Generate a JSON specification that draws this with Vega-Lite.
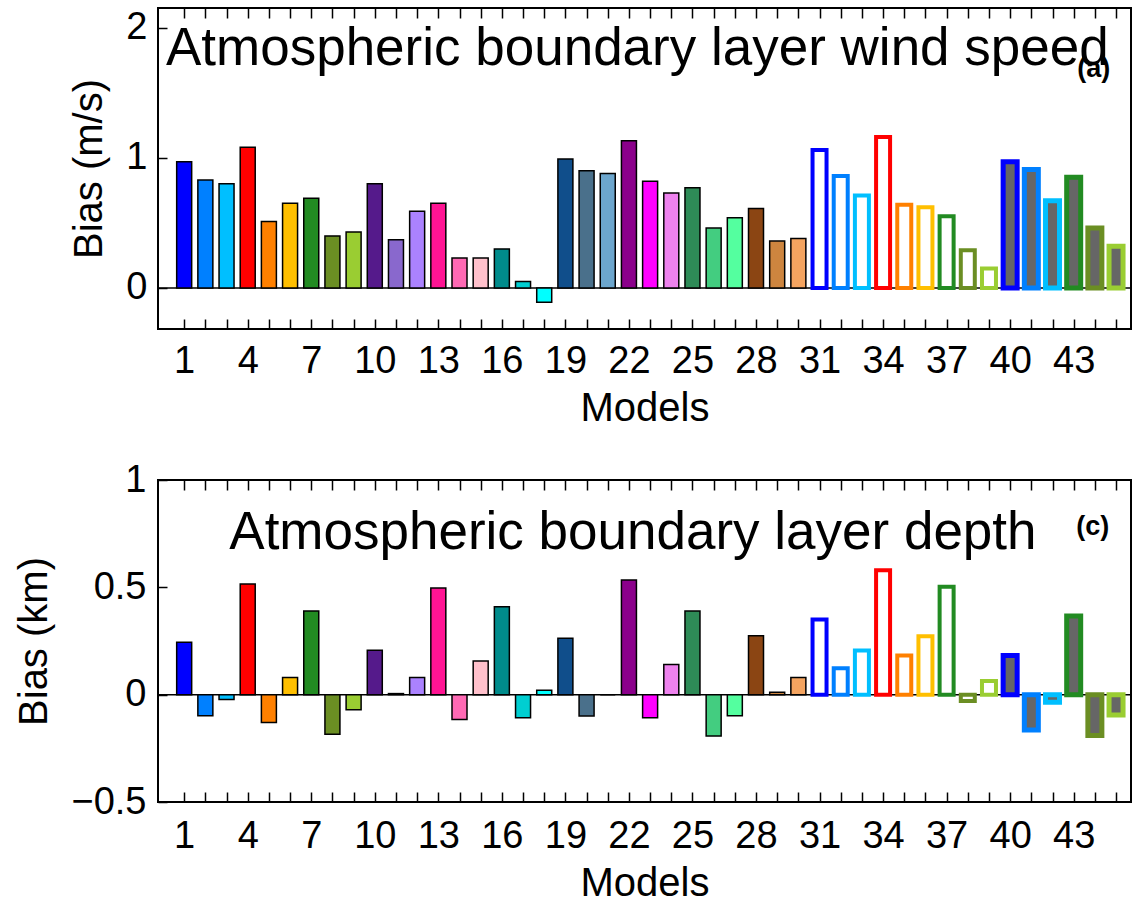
{
  "$schema": "https://vega.github.io/schema/vega-lite/v6.json",
  "padding": {"left": 13, "top": 6, "right": 0, "bottom": 5},
  "background": "white",
  "bounds": "flush",
  "spacing": 151,
  "config": {
    "font": "Liberation Sans",
    "view": {"stroke": "black", "strokeWidth": 2},
    "axis": {
      "labelFont": "Liberation Sans", "labelFontSize": 38, "labelColor": "black",
      "titleFont": "Liberation Sans", "titleFontSize": 40, "titleFontWeight": "normal", "titleColor": "black",
      "tickColor": "black", "tickWidth": 1.5, "domain": false, "grid": false,
      "labelOverlap": false, "labelFlush": false, "labelBound": false
    }
  },
  "data": {
    "values": [
      {"model": 1, "wind": 0.97, "depth": 0.244},
      {"model": 2, "wind": 0.83, "depth": -0.098},
      {"model": 3, "wind": 0.80, "depth": -0.022},
      {"model": 4, "wind": 1.08, "depth": 0.516},
      {"model": 5, "wind": 0.51, "depth": -0.13},
      {"model": 6, "wind": 0.65, "depth": 0.08},
      {"model": 7, "wind": 0.69, "depth": 0.39},
      {"model": 8, "wind": 0.40, "depth": -0.184},
      {"model": 9, "wind": 0.43, "depth": -0.07},
      {"model": 10, "wind": 0.80, "depth": 0.207},
      {"model": 11, "wind": 0.37, "depth": 0.005},
      {"model": 12, "wind": 0.59, "depth": 0.08},
      {"model": 13, "wind": 0.65, "depth": 0.497},
      {"model": 14, "wind": 0.23, "depth": -0.116},
      {"model": 15, "wind": 0.23, "depth": 0.157},
      {"model": 16, "wind": 0.30, "depth": 0.41},
      {"model": 17, "wind": 0.05, "depth": -0.107},
      {"model": 18, "wind": -0.11, "depth": 0.02},
      {"model": 19, "wind": 0.99, "depth": 0.263},
      {"model": 20, "wind": 0.90, "depth": -0.099},
      {"model": 21, "wind": 0.88, "depth": 0.0},
      {"model": 22, "wind": 1.13, "depth": 0.534},
      {"model": 23, "wind": 0.82, "depth": -0.107},
      {"model": 24, "wind": 0.73, "depth": 0.14},
      {"model": 25, "wind": 0.77, "depth": 0.39},
      {"model": 26, "wind": 0.46, "depth": -0.193},
      {"model": 27, "wind": 0.54, "depth": -0.098},
      {"model": 28, "wind": 0.61, "depth": 0.275},
      {"model": 29, "wind": 0.36, "depth": 0.011},
      {"model": 30, "wind": 0.38, "depth": 0.08},
      {"model": 31, "wind": 1.06, "depth": 0.35},
      {"model": 32, "wind": 0.86, "depth": 0.123},
      {"model": 33, "wind": 0.71, "depth": 0.206},
      {"model": 34, "wind": 1.16, "depth": 0.58},
      {"model": 35, "wind": 0.64, "depth": 0.182},
      {"model": 36, "wind": 0.62, "depth": 0.272},
      {"model": 37, "wind": 0.55, "depth": 0.503},
      {"model": 38, "wind": 0.29, "depth": -0.03},
      {"model": 39, "wind": 0.15, "depth": 0.064},
      {"model": 40, "wind": 0.97, "depth": 0.182},
      {"model": 41, "wind": 0.91, "depth": -0.165},
      {"model": 42, "wind": 0.67, "depth": -0.035},
      {"model": 43, "wind": 0.85, "depth": 0.367},
      {"model": 44, "wind": 0.46, "depth": -0.19},
      {"model": 45, "wind": 0.32, "depth": -0.095}
    ]
  },
  "vconcat": [
    {
      "width": 973,
      "height": 321,
      "resolve": {"axis": {"x": "independent", "y": "independent"}},
      "layer": [
        {
          "data": {"values": [{}]},
          "mark": {"type": "rule", "color": "black", "strokeWidth": 1.5},
          "encoding": {"y": {"datum": 0, "type": "quantitative", "scale": {"domain": [-0.315, 2.15], "nice": false, "zero": false}, "axis": null}}
        },
        {
          "transform": [{"filter": {"field": "model", "range": [1, 30]}}],
          "mark": {"type": "bar", "width": 15, "stroke": "black", "strokeWidth": 1.5},
          "encoding": {
            "x": {"field": "model", "type": "quantitative", "scale": {"domain": [0, 45.47], "nice": false, "zero": false},
              "axis": {"orient": "bottom", "values": [1,2,3,4,5,6,7,8,9,10,11,12,13,14,15,16,17,18,19,20,21,22,23,24,25,26,27,28,29,30,31,32,33,34,35,36,37,38,39,40,41,42,43,44,45],
                "labelExpr": "(datum.value - 1) % 3 == 0 ? datum.label : ''", "tickSize": -10, "labelPadding": 23, "title": "Models", "titlePadding": 8}},
            "y": {"field": "wind", "type": "quantitative", "scale": {"domain": [-0.315, 2.15], "nice": false, "zero": false},
              "axis": {"values": [0, 1, 2], "format": "~g", "tickSize": -9, "labelPadding": 20, "title": "Bias (m/s)", "titlePadding": 16}},
            "fill": {"field": "model", "type": "nominal", "legend": null,
              "scale": {"domain": [1,2,3,4,5,6,7,8,9,10,11,12,13,14,15,16,17,18,19,20,21,22,23,24,25,26,27,28,29,30,31,32,33,34,35,36,37,38,39,40,41,42,43,44,45],
                "range": ["#0000FF","#0080FF","#00BFFF","#FF0000","#FF8000","#FFBF00","#228B22","#6B8E23","#9ACD32","#551A8B","#8968CD","#AB82FF","#FF1493","#FF69B4","#FFC0CB","#008B8B","#00CED1","#00FFFF","#104E8B","#4A708B","#6CA6CD","#8B008B","#FF00FF","#EE82EE","#2E8B57","#43CD80","#54FF9F","#8B4513","#CD853F","#F4A460","#0000FF","#0080FF","#00BFFF","#FF0000","#FF8000","#FFBF00","#228B22","#6B8E23","#9ACD32","#0000FF","#0080FF","#00BFFF","#228B22","#6B8E23","#9ACD32"]}}
          }
        },
        {
          "transform": [{"filter": {"field": "model", "range": [31, 39]}}],
          "mark": {"type": "bar", "width": 14, "fill": "white", "strokeWidth": 4},
          "encoding": {
            "x": {"field": "model", "type": "quantitative", "scale": {"domain": [0, 45.47], "nice": false, "zero": false},
              "axis": {"orient": "top", "values": [1,2,3,4,5,6,7,8,9,10,11,12,13,14,15,16,17,18,19,20,21,22,23,24,25,26,27,28,29,30,31,32,33,34,35,36,37,38,39,40,41,42,43,44,45],
                "labels": false, "tickSize": -10, "title": null}},
            "y": {"field": "wind", "type": "quantitative", "scale": {"domain": [-0.315, 2.15], "nice": false, "zero": false}, "axis": null},
            "stroke": {"field": "model", "type": "nominal", "legend": null,
              "scale": {"domain": [1,2,3,4,5,6,7,8,9,10,11,12,13,14,15,16,17,18,19,20,21,22,23,24,25,26,27,28,29,30,31,32,33,34,35,36,37,38,39,40,41,42,43,44,45],
                "range": ["#0000FF","#0080FF","#00BFFF","#FF0000","#FF8000","#FFBF00","#228B22","#6B8E23","#9ACD32","#551A8B","#8968CD","#AB82FF","#FF1493","#FF69B4","#FFC0CB","#008B8B","#00CED1","#00FFFF","#104E8B","#4A708B","#6CA6CD","#8B008B","#FF00FF","#EE82EE","#2E8B57","#43CD80","#54FF9F","#8B4513","#CD853F","#F4A460","#0000FF","#0080FF","#00BFFF","#FF0000","#FF8000","#FFBF00","#228B22","#6B8E23","#9ACD32","#0000FF","#0080FF","#00BFFF","#228B22","#6B8E23","#9ACD32"]}}
          }
        },
        {
          "transform": [{"filter": {"field": "model", "range": [40, 45]}}],
          "mark": {"type": "bar", "width": 14, "fill": "#666666", "strokeWidth": 5},
          "encoding": {
            "x": {"field": "model", "type": "quantitative", "scale": {"domain": [0, 45.47], "nice": false, "zero": false}, "axis": null},
            "y": {"field": "wind", "type": "quantitative", "scale": {"domain": [-0.315, 2.15], "nice": false, "zero": false}, "axis": null},
            "stroke": {"field": "model", "type": "nominal", "legend": null,
              "scale": {"domain": [1,2,3,4,5,6,7,8,9,10,11,12,13,14,15,16,17,18,19,20,21,22,23,24,25,26,27,28,29,30,31,32,33,34,35,36,37,38,39,40,41,42,43,44,45],
                "range": ["#0000FF","#0080FF","#00BFFF","#FF0000","#FF8000","#FFBF00","#228B22","#6B8E23","#9ACD32","#551A8B","#8968CD","#AB82FF","#FF1493","#FF69B4","#FFC0CB","#008B8B","#00CED1","#00FFFF","#104E8B","#4A708B","#6CA6CD","#8B008B","#FF00FF","#EE82EE","#2E8B57","#43CD80","#54FF9F","#8B4513","#CD853F","#F4A460","#0000FF","#0080FF","#00BFFF","#FF0000","#FF8000","#FFBF00","#228B22","#6B8E23","#9ACD32","#0000FF","#0080FF","#00BFFF","#228B22","#6B8E23","#9ACD32"]}}
          }
        },
        {
          "data": {"values": [{}]},
          "mark": {"type": "text", "text": "Atmospheric boundary layer wind speed", "font": "Liberation Sans", "fontSize": 53, "align": "left", "baseline": "alphabetic", "color": "black"},
          "encoding": {
            "x": {"datum": 0.14, "type": "quantitative", "scale": {"domain": [0, 45.47], "nice": false, "zero": false}, "axis": null},
            "y": {"datum": 1.715, "type": "quantitative", "scale": {"domain": [-0.315, 2.15], "nice": false, "zero": false}, "axis": null}
          }
        },
        {
          "data": {"values": [{}]},
          "mark": {"type": "text", "text": "(a)", "font": "Liberation Sans", "fontSize": 27, "fontWeight": "bold", "align": "center", "baseline": "middle", "color": "black"},
          "encoding": {
            "x": {"datum": 43.95, "type": "quantitative", "scale": {"domain": [0, 45.47], "nice": false, "zero": false}, "axis": null},
            "y": {"datum": 1.68, "type": "quantitative", "scale": {"domain": [-0.315, 2.15], "nice": false, "zero": false}, "axis": null}
          }
        }
      ]
    },
    {
      "width": 973,
      "height": 322,
      "resolve": {"axis": {"x": "independent", "y": "independent"}},
      "layer": [
        {
          "data": {"values": [{}]},
          "mark": {"type": "rule", "color": "black", "strokeWidth": 1.5},
          "encoding": {"y": {"datum": 0, "type": "quantitative", "scale": {"domain": [-0.5, 1], "nice": false, "zero": false}, "axis": null}}
        },
        {
          "transform": [{"filter": {"field": "model", "range": [1, 30]}}],
          "mark": {"type": "bar", "width": 15, "stroke": "black", "strokeWidth": 1.5},
          "encoding": {
            "x": {"field": "model", "type": "quantitative", "scale": {"domain": [0, 45.47], "nice": false, "zero": false},
              "axis": {"orient": "bottom", "values": [1,2,3,4,5,6,7,8,9,10,11,12,13,14,15,16,17,18,19,20,21,22,23,24,25,26,27,28,29,30,31,32,33,34,35,36,37,38,39,40,41,42,43,44,45],
                "labelExpr": "(datum.value - 1) % 3 == 0 ? datum.label : ''", "tickSize": -10, "labelPadding": 25, "title": "Models", "titlePadding": 8}},
            "y": {"field": "depth", "type": "quantitative", "scale": {"domain": [-0.5, 1], "nice": false, "zero": false},
              "axis": {"values": [-0.5, 0, 0.5, 1], "format": "~g", "tickSize": -9, "labelPadding": 21, "title": "Bias (km)", "titlePadding": 16}},
            "fill": {"field": "model", "type": "nominal", "legend": null,
              "scale": {"domain": [1,2,3,4,5,6,7,8,9,10,11,12,13,14,15,16,17,18,19,20,21,22,23,24,25,26,27,28,29,30,31,32,33,34,35,36,37,38,39,40,41,42,43,44,45],
                "range": ["#0000FF","#0080FF","#00BFFF","#FF0000","#FF8000","#FFBF00","#228B22","#6B8E23","#9ACD32","#551A8B","#8968CD","#AB82FF","#FF1493","#FF69B4","#FFC0CB","#008B8B","#00CED1","#00FFFF","#104E8B","#4A708B","#6CA6CD","#8B008B","#FF00FF","#EE82EE","#2E8B57","#43CD80","#54FF9F","#8B4513","#CD853F","#F4A460","#0000FF","#0080FF","#00BFFF","#FF0000","#FF8000","#FFBF00","#228B22","#6B8E23","#9ACD32","#0000FF","#0080FF","#00BFFF","#228B22","#6B8E23","#9ACD32"]}}
          }
        },
        {
          "transform": [{"filter": {"field": "model", "range": [31, 39]}}],
          "mark": {"type": "bar", "width": 14, "fill": "white", "strokeWidth": 4},
          "encoding": {
            "x": {"field": "model", "type": "quantitative", "scale": {"domain": [0, 45.47], "nice": false, "zero": false},
              "axis": {"orient": "top", "values": [1,2,3,4,5,6,7,8,9,10,11,12,13,14,15,16,17,18,19,20,21,22,23,24,25,26,27,28,29,30,31,32,33,34,35,36,37,38,39,40,41,42,43,44,45],
                "labels": false, "tickSize": -10, "title": null}},
            "y": {"field": "depth", "type": "quantitative", "scale": {"domain": [-0.5, 1], "nice": false, "zero": false}, "axis": null},
            "stroke": {"field": "model", "type": "nominal", "legend": null,
              "scale": {"domain": [1,2,3,4,5,6,7,8,9,10,11,12,13,14,15,16,17,18,19,20,21,22,23,24,25,26,27,28,29,30,31,32,33,34,35,36,37,38,39,40,41,42,43,44,45],
                "range": ["#0000FF","#0080FF","#00BFFF","#FF0000","#FF8000","#FFBF00","#228B22","#6B8E23","#9ACD32","#551A8B","#8968CD","#AB82FF","#FF1493","#FF69B4","#FFC0CB","#008B8B","#00CED1","#00FFFF","#104E8B","#4A708B","#6CA6CD","#8B008B","#FF00FF","#EE82EE","#2E8B57","#43CD80","#54FF9F","#8B4513","#CD853F","#F4A460","#0000FF","#0080FF","#00BFFF","#FF0000","#FF8000","#FFBF00","#228B22","#6B8E23","#9ACD32","#0000FF","#0080FF","#00BFFF","#228B22","#6B8E23","#9ACD32"]}}
          }
        },
        {
          "transform": [{"filter": {"field": "model", "range": [40, 45]}}],
          "mark": {"type": "bar", "width": 14, "fill": "#666666", "strokeWidth": 5},
          "encoding": {
            "x": {"field": "model", "type": "quantitative", "scale": {"domain": [0, 45.47], "nice": false, "zero": false}, "axis": null},
            "y": {"field": "depth", "type": "quantitative", "scale": {"domain": [-0.5, 1], "nice": false, "zero": false}, "axis": null},
            "stroke": {"field": "model", "type": "nominal", "legend": null,
              "scale": {"domain": [1,2,3,4,5,6,7,8,9,10,11,12,13,14,15,16,17,18,19,20,21,22,23,24,25,26,27,28,29,30,31,32,33,34,35,36,37,38,39,40,41,42,43,44,45],
                "range": ["#0000FF","#0080FF","#00BFFF","#FF0000","#FF8000","#FFBF00","#228B22","#6B8E23","#9ACD32","#551A8B","#8968CD","#AB82FF","#FF1493","#FF69B4","#FFC0CB","#008B8B","#00CED1","#00FFFF","#104E8B","#4A708B","#6CA6CD","#8B008B","#FF00FF","#EE82EE","#2E8B57","#43CD80","#54FF9F","#8B4513","#CD853F","#F4A460","#0000FF","#0080FF","#00BFFF","#FF0000","#FF8000","#FFBF00","#228B22","#6B8E23","#9ACD32","#0000FF","#0080FF","#00BFFF","#228B22","#6B8E23","#9ACD32"]}}
          }
        },
        {
          "data": {"values": [{}]},
          "mark": {"type": "text", "text": "Atmospheric boundary layer depth", "font": "Liberation Sans", "fontSize": 53, "align": "left", "baseline": "alphabetic", "color": "black"},
          "encoding": {
            "x": {"datum": 3.13, "type": "quantitative", "scale": {"domain": [0, 45.47], "nice": false, "zero": false}, "axis": null},
            "y": {"datum": 0.678, "type": "quantitative", "scale": {"domain": [-0.5, 1], "nice": false, "zero": false}, "axis": null}
          }
        },
        {
          "data": {"values": [{}]},
          "mark": {"type": "text", "text": "(c)", "font": "Liberation Sans", "fontSize": 27, "fontWeight": "bold", "align": "center", "baseline": "middle", "color": "black"},
          "encoding": {
            "x": {"datum": 43.9, "type": "quantitative", "scale": {"domain": [0, 45.47], "nice": false, "zero": false}, "axis": null},
            "y": {"datum": 0.78, "type": "quantitative", "scale": {"domain": [-0.5, 1], "nice": false, "zero": false}, "axis": null}
          }
        }
      ]
    }
  ]
}
